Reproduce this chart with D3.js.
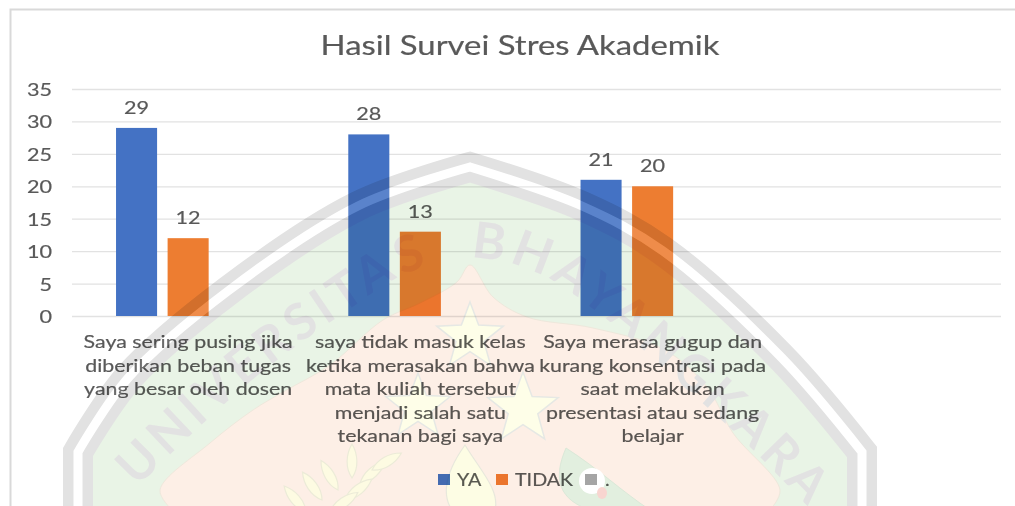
<!DOCTYPE html>
<html>
<head>
<meta charset="utf-8">
<script src="https://cdn.jsdelivr.net/npm/d3@7"></script>
<style>
html, body { margin: 0; padding: 0; background: #fff; overflow: hidden; }
svg { display: block; filter: blur(0.4px); }
text { font-family: Lato, "Noto Sans", sans-serif; fill: #595959; stroke: #595959; stroke-width: 0.2px; }
</style>
</head>
<body>
<svg id="chart" width="1015" height="506"></svg>
<script>
var titleText = 'Hasil Survei Stres Akademik';
var categories = ['a', 'b', 'c', ''];
var categoryLines = [
	['Saya sering pusing jika', 'diberikan beban tugas', 'yang besar oleh dosen'],
	['saya tidak masuk kelas', 'ketika merasakan bahwa', 'mata kuliah tersebut', 'menjadi salah satu', 'tekanan bagi saya'],
	['Saya merasa gugup dan', 'kurang konsentrasi pada', 'saat melakukan', 'presentasi atau sedang', 'belajar'],
	[]
];
var seriesNames = ['YA', 'TIDAK', '.'];
var seriesColors = ['#4472c4', '#ed7d31', '#a5a5a5'];
var yaValues = [29, 28, 21];
var tidakValues = [12, 13, 20];
var dotValues = [];
var seriesValues = [yaValues, tidakValues, dotValues];
var yTicks = [0, 5, 10, 15, 20, 25, 30, 35];

var stretch = 1.2;
var svg = d3.select('#chart');

var x0 = d3.scaleBand().domain(categories).range([72, 1001]);
var x1 = d3.scaleBand().domain(seriesNames).range([0, x0.bandwidth()]).paddingInner(0.204).paddingOuter(0.854);
var y = d3.scaleLinear().domain([0, 35]).range([316, 89]);

// stretched text, the source picture is wider than it is tall
var addText = function(parent, str, x, yPos, size, anchor) {
	return parent.append('text')
		.attr('transform', 'translate(' + x + ',' + yPos + ') scale(' + stretch + ',1)')
		.attr('text-anchor', anchor || 'middle')
		.style('font-size', size + 'px')
		.text(str);
};

// chart frame
svg.append('path').attr('d', 'M1015,9.5H10.5V506').attr('fill', 'none').attr('stroke', '#d9d9d9').attr('stroke-width', 2);

addText(svg, titleText, 520, 55, 27.4);

// gridlines and value labels
var yAxis = svg.append('g')
	.attr('transform', 'translate(72,0)')
	.call(d3.axisLeft(y).tickValues(yTicks).tickSize(-929));
yAxis.select('.domain').remove();
yAxis.selectAll('.tick line').attr('stroke', '#e2e2e2').attr('stroke-width', 1.3);
yAxis.selectAll('.tick text')
	.attr('x', 0).attr('dy', '0.36em')
	.attr('text-anchor', 'end')
	.attr('transform', 'translate(-20,0) scale(' + stretch + ',1)')
	.style('font-size', '18px');

// bars
seriesNames.forEach(function(name, s) {
	var g = svg.append('g');
	var rows = seriesValues[s].map(function(v, i) { return { cat: categories[i], v: v }; });
	g.selectAll('rect').data(rows).enter().append('rect')
		.attr('x', function(d) { return x0(d.cat) + x1(name); })
		.attr('y', function(d) { return y(d.v); })
		.attr('width', x1.bandwidth())
		.attr('height', function(d) { return y(0) - y(d.v); })
		.attr('fill', seriesColors[s]);
	rows.forEach(function(d) {
		addText(g, d.v, x0(d.cat) + x1(name) + x1.bandwidth() / 2, y(d.v) - 14, 18);
	});
});

// category labels
categories.forEach(function(cat, i) {
	categoryLines[i].forEach(function(line, j) {
		addText(svg, line, x0(cat) + x0.bandwidth() / 2, 348 + j * 23.6, 17.8);
	});
});

// legend
var legendBoxX = [438, 496, 585];
var legendTextX = [457, 515, 605];
seriesNames.forEach(function(name, s) {
	svg.append('rect').attr('x', legendBoxX[s]).attr('y', 474).attr('width', 12).attr('height', 11).attr('fill', seriesColors[s]);
	addText(svg, name, legendTextX[s], 486, 16.4, 'start');
});

// university watermark over everything
var wm = svg.append('g').style('mix-blend-mode', 'multiply');
var curve = d3.line().curve(d3.curveCatmullRom);
var side = function(a, b) { return curve(a) + curve(b).replace('M', 'L'); };

var shieldLeft = [[78, 452], [129, 377], [228, 291], [358, 206], [470, 167]];
var shieldRight = [[470, 167], [582, 206], [663, 251], [781, 357], [862, 452]];
var shield = 'M78,520L78,452' + side(shieldLeft, shieldRight).replace('M', 'L') + 'L862,520';
wm.append('path').attr('d', shield + 'Z').attr('fill', '#e9f4e6');

var peach = [[172, 510], [160, 490], [210, 443], [253, 410], [283, 392], [330, 365], [383, 320], [420, 303], [457, 282], [470, 265],
	[493, 297], [527, 317], [593, 328], [665, 350], [707, 387], [733, 433], [780, 490], [770, 510]];
wm.append('path').attr('d', curve(peach) + 'Z').attr('fill', '#fdefe6').attr('stroke', '#eee8dc').attr('stroke-width', 1);

// stars
var starPath = function(cx, cy, r) {
	var pts = d3.range(10).map(function(i) {
		var rad = i % 2 ? r * 0.42 : r;
		var a = -Math.PI / 2 + i * Math.PI / 5;
		return [cx + rad * Math.cos(a), cy + rad * Math.sin(a)];
	});
	return d3.line()(pts) + 'Z';
};
[[470, 337, 35], [418, 407, 34], [523, 409, 37]].forEach(function(s) {
	wm.append('path').attr('d', starPath(s[0], s[1], s[2])).attr('fill', '#fefee8').attr('stroke', '#e6e8e4').attr('stroke-width', 1.5);
});

// wheat ear and flame leaves
var grain = 'M0,0C-7,-10 -6,-24 0,-34C6,-24 7,-10 0,0Z';
[[352, 478, 0], [338, 490, -30], [360, 484, 48], [322, 500, -35], [345, 500, 52], [306, 512, -40], [330, 512, 55], [372, 470, 60]].forEach(function(g) {
	wm.append('path').attr('d', grain)
		.attr('transform', 'translate(' + g[0] + ',' + g[1] + ') rotate(' + g[2] + ')')
		.attr('fill', '#fdfbe2').attr('stroke', '#ecebd8').attr('stroke-width', 1.2);
});
wm.append('path').attr('d', 'M465,445C440,480 445,500 452,510H495C500,490 480,470 465,445Z').attr('fill', '#fdfde4').attr('stroke', '#e8e8dc').attr('stroke-width', 1.2);
wm.append('path').attr('d', 'M566,448C552,480 560,500 590,510H650C620,490 600,470 566,448Z').attr('fill', '#e2efdf').attr('stroke', '#dbe8d8').attr('stroke-width', 1);
wm.append('ellipse').attr('cx', 592).attr('cy', 481).attr('rx', 13).attr('ry', 13).attr('fill', '#fff');
wm.append('ellipse').attr('cx', 602).attr('cy', 493).attr('rx', 5).attr('ry', 6).attr('fill', '#f8d5d0');

// double band
wm.append('path').attr('d', shield).attr('fill', 'none').attr('stroke', '#e2e2e2').attr('stroke-width', 30);
wm.append('path').attr('d', shield).attr('fill', 'none').attr('stroke', '#fff').attr('stroke-width', 9);

// lettering along the arc
var arc = curve([[125, 500], [185, 440], [262, 372], [345, 312], [410, 272], [470, 258], [535, 272], [610, 322], [690, 392], [748, 445], [830, 530]]);
wm.append('path').attr('id', 'wmArc').attr('d', arc).attr('fill', 'none');
wm.append('text')
	.style('font-family', 'Lato, sans-serif')
	.style('font-weight', 700)
	.style('font-size', '50px')
	.style('letter-spacing', '5px')
	.style('word-spacing', '22px')
	.style('fill', '#e2e2e2')
	.style('stroke', 'none')
	.append('textPath')
	.attr('href', '#wmArc')
	.attr('startOffset', 18)
	.text('UNIVERSITAS BHAYANGKARA');

// bright gap on top of the bars
svg.append('path').attr('d', shield).attr('fill', 'none').attr('stroke', '#fff').attr('stroke-opacity', 0.12).attr('stroke-width', 9);
</script>
</body>
</html>
